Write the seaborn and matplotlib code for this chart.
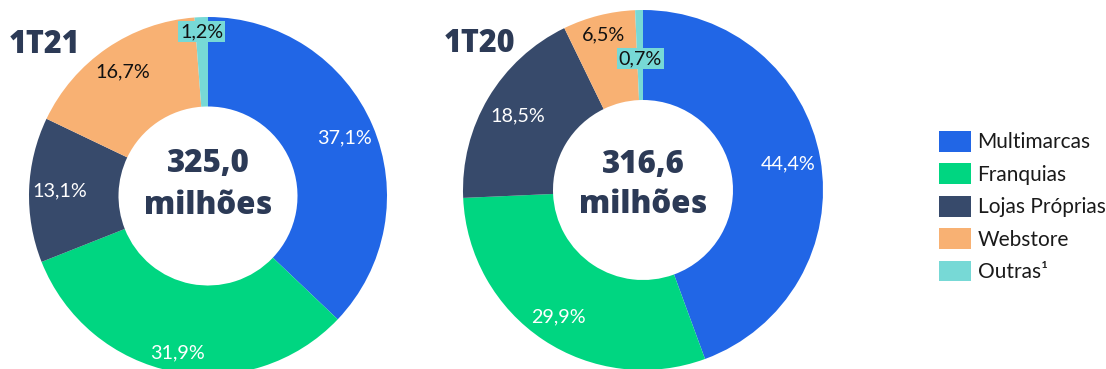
import numpy as np
import matplotlib
matplotlib.use("Agg")
import matplotlib.pyplot as plt
from matplotlib.patches import Patch
import seaborn as sns

# Channel split of revenue per quarter
channels = ["Multimarcas", "Franquias", "Lojas Próprias", "Webstore", "Outras¹"]
share_1t21 = [37.1, 31.9, 13.1, 16.7, 1.2]
share_1t20 = [44.4, 29.9, 18.5, 6.5, 0.7]
periods = ["1T21", "1T20"]
totals = ["325,0", "316,6"]

sns.set_theme(style="white")
plt.rcParams["font.family"] = ["Lato", "DejaVu Sans"]

palette = sns.color_palette(["#2166E6", "#00D681", "#374A6B", "#F8B173", "#77D9D6"])
navy = "#2C3A56"
label_colors = ["white", "white", "white", "#111111", "#111111"]
heavy = dict(family=["Open Sans", "DejaVu Sans"], fontweight=800, color=navy)

W, H = 1106, 369
fig = plt.figure(figsize=(W / 100, H / 100), dpi=100)


def donut(cx, cy, r, shares, period, total, radial, base_y, title_xy):
    ax = fig.add_axes([(cx - r) / W, (H - cy - r) / H, 2 * r / W, 2 * r / H])
    wedges, _ = ax.pie(shares, colors=palette, startangle=90, counterclock=False,
                       radius=1.0, wedgeprops=dict(width=0.5, linewidth=0))
    ax.set_xlim(-1, 1)
    ax.set_ylim(-1, 1)
    ax.set_aspect("equal")
    ax.axis("off")
    for i, (w, v) in enumerate(zip(wedges, shares)):
        ang = np.deg2rad((w.theta1 + w.theta2) / 2)
        d = radial[i]
        txt = f"{v:.1f}%".replace(".", ",")
        kw = {}
        if i == 4:
            kw["bbox"] = dict(boxstyle="square,pad=0.1", fc=palette[4], ec="none")
        ax.text(d * np.cos(ang), d * np.sin(ang), txt, ha="center", va="center",
                fontsize=14.2, color=label_colors[i], **kw)
    # central total, two lines on their own baselines (pixel rows)
    for s, y in zip([total, "milhões"], base_y):
        fig.text(cx / W, 1 - y / H, s, ha="center", va="baseline", fontsize=22.5, **heavy)
    fig.text(title_xy[0] / W, 1 - title_xy[1] / H, period, ha="left", va="baseline",
             fontsize=22, **heavy)


donut(208, 196, 179, share_1t21, periods[0], totals[0],
      [0.83, 0.89, 0.83, 0.84, 0.92], (172, 214), (9, 53))
donut(643, 190, 180, share_1t20, periods[1], totals[1],
      [0.82, 0.85, 0.81, 0.89, 0.73], (173, 213), (444, 52))

handles = [Patch(facecolor=c, edgecolor="none") for c in palette]
fig.legend(handles, channels, loc="upper left", bbox_to_anchor=(939 / W, 1 - 131 / H),
           frameon=False, fontsize=15, handlelength=1.55, handleheight=1.15,
           handletextpad=0.3, labelspacing=0.53, borderaxespad=0, borderpad=0,
           labelcolor="#1a1a1a")

fig.savefig("out.png", dpi=100)
